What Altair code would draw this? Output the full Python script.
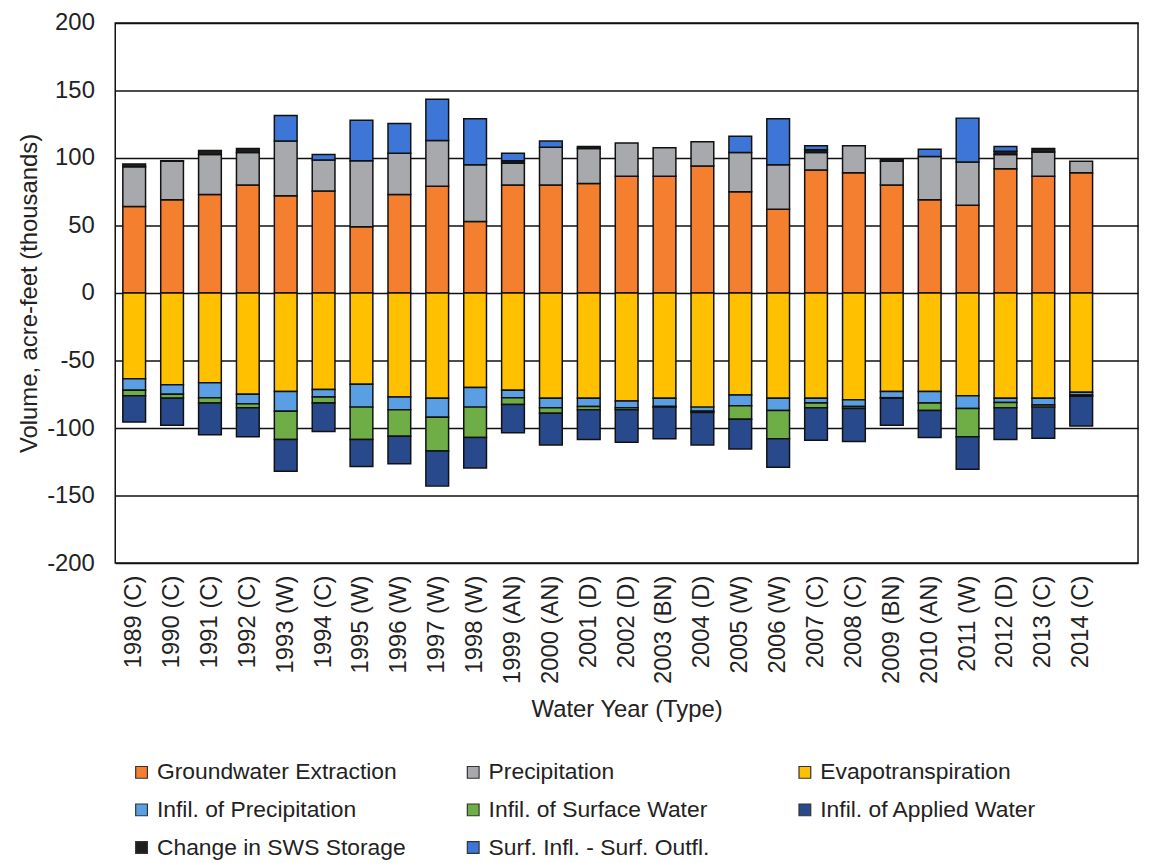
import altair as alt
import pandas as pd

years = ["1989 (C)", "1990 (C)", "1991 (C)", "1992 (C)", "1993 (W)", "1994 (C)",
         "1995 (W)", "1996 (W)", "1997 (W)", "1998 (W)", "1999 (AN)", "2000 (AN)",
         "2001 (D)", "2002 (D)", "2003 (BN)", "2004 (D)", "2005 (W)", "2006 (W)",
         "2007 (C)", "2008 (C)", "2009 (BN)", "2010 (AN)", "2011 (W)", "2012 (D)",
         "2013 (C)", "2014 (C)"]

# inflows (positive, thousands of acre-feet)
groundwater_extraction = [64, 69, 73, 80, 72, 75.5, 49, 73, 79, 53, 80, 80, 81, 86.5, 86.5,
                          94, 75, 62, 91, 89, 80, 69, 65, 92, 86.5, 89]
precipitation = [29.5, 28.5, 29.5, 24, 40.5, 23, 49, 30.5, 34, 42, 16, 28, 26, 24.5, 21,
                 18, 29, 33, 13, 20, 17.5, 32, 32, 10.5, 18, 8.5]
change_sws_storage = [2, 0.5, 3, 3, 0, 0, 0, 0, 0, 0, 2, 0, 1.5, 0, 0, 0, 0, 0, 2, 0, 2,
                      0, 0, 2.5, 2.5, 0]
surf_infl_outfl = [0, 0, 0, 0, 19, 4, 30, 22, 30.5, 34, 5.5, 4.5, 0, 0, 0, 0, 12, 34, 3,
                   0, 0, 5.5, 32.5, 3.5, 0, 0]

# outflows (negative, thousands of acre-feet)
evapotranspiration = [-63.5, -68, -66.5, -75, -73, -71.5, -67.5, -77, -78, -70, -72, -78,
                      -78, -80, -78, -84.5, -75.5, -78, -78, -79, -73, -73, -76, -78, -78,
                      -73.5]
infil_precipitation = [-8.5, -7, -11, -7, -14.5, -5.5, -17, -9.5, -14, -14.5, -5.5, -7, -6,
                       -5, -6, -3, -8, -9, -3.5, -5, -4.5, -8.5, -9.5, -3, -5, -2]
infil_surface_water = [-4, -3, -4, -3, -21, -4.5, -24, -19.5, -25, -22.5, -5, -4, -2.5,
                       -1.5, -0.5, -1, -10, -21, -3.5, -1.5, -0.5, -5.5, -21, -4, -1.5, -1]
infil_applied_water = [-19.5, -20, -23.5, -21.5, -23.5, -21, -20, -20.5, -26, -22.5, -21,
                       -23.5, -22, -24, -23.5, -24, -22, -21, -24, -24.5, -20, -20, -24,
                       -23.5, -23, -22]

legend_order = ["Groundwater Extraction", "Precipitation", "Evapotranspiration",
                "Infil. of Precipitation", "Infil. of Surface Water",
                "Infil. of Applied Water", "Change in SWS Storage",
                "Surf. Infl. - Surf. Outfl."]
colors = ["#F47F2E", "#A7A9AC", "#FFC000", "#5A9FE3", "#6FAD47", "#284A8C",
          "#1E1E1E", "#3D76D6"]

series = {
    "Groundwater Extraction": (groundwater_extraction, 0),
    "Evapotranspiration": (evapotranspiration, 1),
    "Precipitation": (precipitation, 2),
    "Infil. of Precipitation": (infil_precipitation, 3),
    "Infil. of Surface Water": (infil_surface_water, 4),
    "Infil. of Applied Water": (infil_applied_water, 5),
    "Change in SWS Storage": (change_sws_storage, 6),
    "Surf. Infl. - Surf. Outfl.": (surf_infl_outfl, 7),
}

rows = []
for name, (vals, order) in series.items():
    for y, v in zip(years, vals):
        rows.append({"year": y, "component": name, "value": v, "order": order})
df = pd.DataFrame(rows)

FONT = "Liberation Sans"

chart = alt.Chart(df).transform_filter(
    "datum.value != 0"
).mark_bar(stroke="#111111", strokeWidth=1.5).encode(
    x=alt.X("year:N", sort=years,
            scale=alt.Scale(paddingInner=0.4, paddingOuter=0.7, align=0.143),
            axis=alt.Axis(title="Water Year (Type)", labelAngle=-90, ticks=False,
                          domain=False, labelPadding=12, titlePadding=14,
                          labelFontSize=24, titleFontSize=24, titleFontWeight="normal",
                          labelFont=FONT, titleFont=FONT, labelColor="#222222",
                          titleColor="#222222")),
    y=alt.Y("value:Q", stack="zero",
            scale=alt.Scale(domain=[-200, 200], nice=False),
            axis=alt.Axis(title="Volume, acre-feet (thousands)",
                          values=[-200, -150, -100, -50, 0, 50, 100, 150, 200],
                          labelExpr="'' + datum.value",
                          grid=True, gridColor="#111111", gridWidth=1.5, gridOpacity=1,
                          ticks=False, domain=False, labelPadding=21, titlePadding=5,
                          labelFlush=False, labelFontSize=24, titleFontSize=24,
                          titleFontWeight="normal", labelFont=FONT, titleFont=FONT,
                          labelColor="#222222", titleColor="#222222")),
    color=alt.Color("component:N",
                    scale=alt.Scale(domain=legend_order, range=colors),
                    legend=alt.Legend(title=None, orient="none", legendX=15, legendY=743,
                                      direction="horizontal",
                                      columns=3, gridAlign="all", columnPadding=56,
                                      rowPadding=14, symbolType="square", symbolSize=140,
                                      symbolStrokeColor="#333333", symbolStrokeWidth=1.2,
                                      labelFontSize=23, labelFont=FONT,
                                      labelColor="#222222", labelOffset=4,
                                      labelLimit=400, padding=0)),
    order=alt.Order("order:Q"),
).properties(
    width=1030, height=544,
    autosize=alt.AutoSizeParams(type="none"),
    padding={"left": 108, "top": 12, "right": 3, "bottom": 299},
).configure_view(
    stroke="#111111", strokeWidth=1.5
)

chart.save("out.html", embed_options={"renderer": "svg", "actions": False})
